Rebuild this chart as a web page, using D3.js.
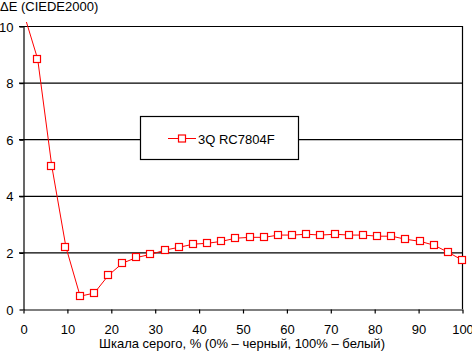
<!DOCTYPE html>
<html>
<head>
<meta charset="utf-8">
<script src="https://cdn.jsdelivr.net/npm/d3@7"></script>
<style>
  body { margin: 0; background: #fff; }
  svg text { font-family: "Liberation Sans", Arial, sans-serif; font-size: 13px; fill: #000; }
</style>
</head>
<body>
<svg id="chart"></svg>
<script>
// grey level, % (32 steps)
const steps = d3.range(32).map(i => i * 100 / 31);
const deltaE = [10.5, 8.85, 5.06, 2.2, 0.47, 0.58, 1.21, 1.64, 1.84, 1.95, 2.1, 2.2, 2.31, 2.34, 2.41, 2.52,
                2.55, 2.55, 2.63, 2.63, 2.66, 2.63, 2.66, 2.63, 2.63, 2.59, 2.59, 2.48, 2.41, 2.27, 2.02, 1.74];
const xTicks = [0, 10, 20, 30, 40, 50, 60, 70, 80, 90, 100];
const yTicks = [0, 2, 4, 6, 8, 10];
const seriesName = '3Q RC7804F';

const config = {
  width: 472,
  height: 352,
  margin: {top: 26, right: 10, bottom: 43, left: 23}
};

const svg = d3.select('#chart')
  .attr('width', config.width)
  .attr('height', config.height);

const inner_width = config.width - config.margin.left - config.margin.right;
const inner_height = config.height - config.margin.top - config.margin.bottom;

const chart = svg.append('g')
  .attr('transform', `translate(${config.margin.left}, ${config.margin.top})`);

const xscale = d3.scaleLinear().domain([0, 100]).range([0, inner_width]);
const yscale = d3.scaleLinear().domain([0, 10]).range([inner_height, 0]);

// horizontal grid lines
chart.append('g')
  .selectAll('line')
  .data(yTicks.filter(d => d > 0))
  .join('line')
  .attr('x1', -4).attr('x2', inner_width)
  .attr('y1', d => yscale(d) + 0.5).attr('y2', d => yscale(d) + 0.5)
  .attr('stroke', '#000').attr('stroke-width', 1.2);

// right border
chart.append('line')
  .attr('x1', inner_width + 0.5).attr('x2', inner_width + 0.5)
  .attr('y1', 0).attr('y2', inner_height)
  .attr('stroke', '#000').attr('stroke-width', 1.2);

// axes
const xaxis = d3.axisBottom(xscale).tickValues(xTicks).tickSize(4).tickSizeOuter(0).tickPadding(11);
const xaxis_group = chart.append('g')
  .attr('transform', `translate(0.5, ${inner_height + 0.5})`)
  .call(xaxis);

const yaxis = d3.axisLeft(yscale).tickValues(yTicks).tickSize(4).tickSizeOuter(0).tickPadding(6);
const yaxis_group = chart.append('g')
  .attr('transform', `translate(0.5, 0.5)`)
  .call(yaxis);

[xaxis_group, yaxis_group].forEach(g => {
  g.selectAll('path, line').attr('stroke', '#000').attr('stroke-width', 1.2);
  g.selectAll('text').attr('font-size', 13).attr('font-family', '"Liberation Sans", Arial, sans-serif');
});
yaxis_group.selectAll('text').attr('dy', '0.36em');

// clip
svg.append('defs').append('clipPath').attr('id', 'clip')
  .append('rect').attr('x', 0).attr('y', -4).attr('width', inner_width + 4).attr('height', inner_height + 4);

const line = d3.line()
  .x((d, i) => xscale(steps[i]) + 0.5)
  .y(d => yscale(d) + 0.5);

const series = chart.append('g').attr('clip-path', 'url(#clip)');
series.append('path')
  .datum(deltaE)
  .attr('d', line)
  .attr('fill', 'none')
  .attr('stroke', '#ff0000')
  .attr('stroke-width', 1);

chart.append('g')
  .selectAll('rect')
  .data(deltaE.map((v, i) => ({x: steps[i], y: v})).filter(d => d.y <= 10))
  .join('rect')
  .attr('x', d => Math.round(xscale(d.x)) - 3.5)
  .attr('y', d => Math.round(yscale(d.y)) - 3.5)
  .attr('width', 7).attr('height', 7)
  .attr('fill', '#fff')
  .attr('stroke', '#ff0000')
  .attr('stroke-width', 1.2);

// legend
const legend = svg.append('g');
legend.append('rect')
  .attr('x', 140.5).attr('y', 116.5).attr('width', 158).attr('height', 43)
  .attr('fill', '#fff').attr('stroke', '#000').attr('stroke-width', 1.2);
legend.append('line')
  .attr('x1', 168).attr('x2', 196).attr('y1', 138.5).attr('y2', 138.5)
  .attr('stroke', '#ff0000').attr('stroke-width', 1);
legend.append('rect')
  .attr('x', 178.5).attr('y', 135).attr('width', 7).attr('height', 7)
  .attr('fill', '#fff').attr('stroke', '#ff0000').attr('stroke-width', 1.2);
legend.append('text')
  .attr('x', 198).attr('y', 143.5)
  .text(seriesName);

// titles
svg.append('text')
  .attr('x', 0).attr('y', 10.5)
  .text('ΔE (CIEDE2000)');

svg.append('text')
  .attr('x', 242).attr('y', 348)
  .attr('text-anchor', 'middle')
  .text('Шкала серого, % (0% – черный, 100% – белый)');
</script>
</body>
</html>
